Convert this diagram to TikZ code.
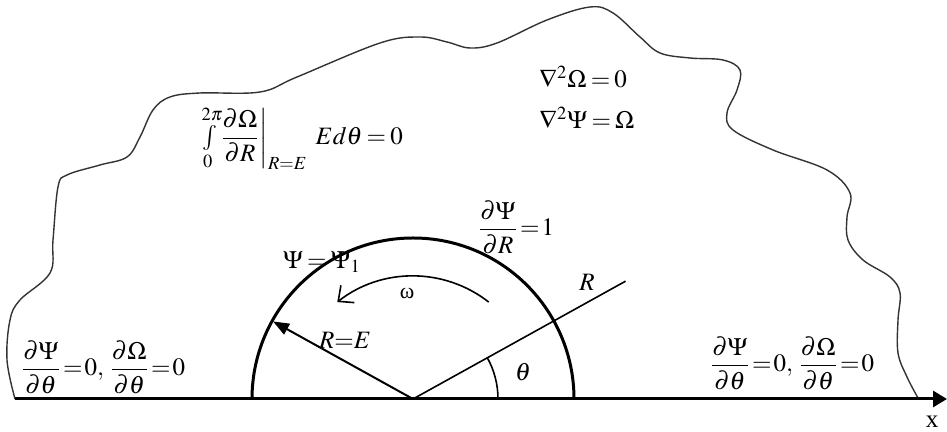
\documentclass[tikz,border=0pt]{standalone}
\usepackage{amsmath}
\usepackage{mathptmx}
\usepackage[no-math]{fontspec}
\setmainfont{Liberation Serif}
\usetikzlibrary{arrows.meta,positioning}

\begin{document}
\begin{tikzpicture}[x=0.5pt,y=0.5pt,
        lbl/.style={inner sep=1pt, font=\fontsize{12.5}{15}\selectfont, execute at begin node={\thickmuskip=3mu\relax}},
        bc/.style={inner sep=1pt, font=\fontsize{12.5}{15}\selectfont, execute at begin node={\thickmuskip=1.5mu\relax}},
        wall/.style={line width=1.5pt},
        thinline/.style={line width=0.8pt},
        outline/.style={line width=0.7pt, black!80}]
        \useasboundingbox (0,0) rectangle (947,432);

        % Define coordinates
        \coordinate (O) at (413,33);
        \coordinate (xstart) at (15,33);
        \coordinate (xend) at (947,33);
        \coordinate (RE) at ([shift={(151:160)}]O);
        \coordinate (Rend) at ([shift={(29:243)}]O);

        % Define nodes
        \node[bc] (bcleft) at (103,65) {$\dfrac{\partial\Psi}{\partial\theta}=0,\,\dfrac{\partial\Omega}{\partial\theta}=0$};
        \node[bc] (bcright) at (792,69) {$\dfrac{\partial\Psi}{\partial\theta}=0,\,\dfrac{\partial\Omega}{\partial\theta}=0$};
        \node[lbl, anchor=west] (integral) at (197,294) {$\int\limits_0^{2\pi}\!\dfrac{\partial\Omega}{\partial R}\bigg|_{R=E}\;\;E d\theta=0$};
        \node[lbl, anchor=west] (lapomega) at (537,355) {$\nabla^2\Omega=0$};
        \node[lbl, anchor=west] (lappsi) at (537,314) {$\nabla^2\Psi=\Omega$};
        \node[lbl] (psiwall) at (322,170) {$\Psi=\Psi_1$};
        \node[bc] (dpsidr) at (516,205) {$\dfrac{\partial\Psi}{\partial R}=1$};
        \node[lbl] (omega) at (407,139) {\fontsize{11}{13}\selectfont ω};
        \node[lbl] (RElbl) at (345,92) {$R{=}E$};
        \node[lbl] (Rlbl) at (587,150) {$R$};
        \node[lbl] (thetalbl) at (523,60) {$\theta$};
        \node[lbl] (xlbl) at (932,10) {x};

        % Outer boundary
        \draw[outline] plot[smooth, tension=0.6] coordinates {
            (15,33) (7,72) (10,112) (20,132) (50,159) (53,192) (58,245) (67,257)
            (100,267) (127,275) (140,295) (153,322) (170,335) (200,339) (260,340)
            (297,355) (380,389) (420,395) (447,390) (470,384) (497,389) (547,412)
            (590,425) (613,419) (640,395) (660,379) (690,374) (723,372) (740,362)
            (737,342) (727,319) (733,302) (773,282) (827,262) (850,239) (847,215)
            (848,192) (863,172) (890,155) (900,139) (898,112) (898,79) (907,55) (918,34)};

        % Cylinder and axis
        \draw[wall] ([shift={(180:161)}]O) arc (180:0:161);
        \draw[wall, -{Triangle[length=7pt,width=8pt]}] (xstart) -- (xend);

        % Radii and angles
        \draw[line width=1pt, -{Triangle[length=8pt,width=6pt]}] (O) -- (RE);
        \draw[thinline] (O) -- (Rend);
        \draw[thinline] ([shift={(0:85)}]O) arc (0:29:85);
        \draw[thinline, -{Straight Barb[length=6pt,width=11pt]}] ([shift={(52:123)}]O) arc (52:128:123);
    \end{tikzpicture}
\end{document}
